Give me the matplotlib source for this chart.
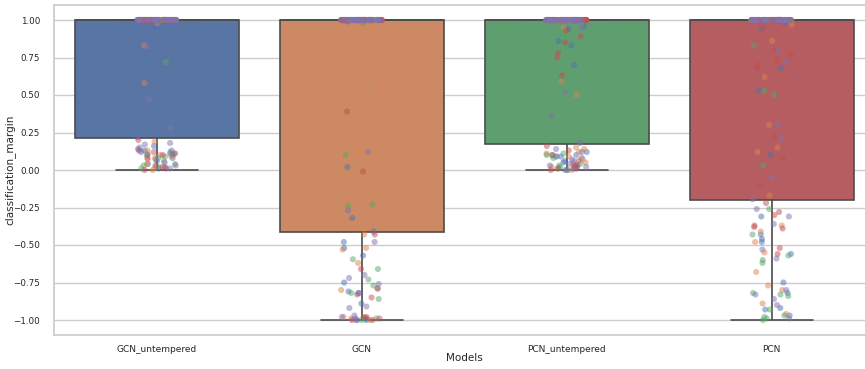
import matplotlib
matplotlib.use("Agg")
import matplotlib.pyplot as plt
import numpy as np
import pandas as pd
import seaborn as sns

models = ["GCN_untempered", "GCN", "PCN_untempered", "PCN"]
seeds = [0, 1, 2, 3, 4]

# classification margin per node, one list per seed
gcn_untempered = [
    [0.01, 0.02, 0.04, 0.06, 0.08, 0.10, 0.12, 0.13, 0.14, 0.16, 0.22, 0.95] + [1.0] * 28,
    [0.00, 0.02, 0.04, 0.07, 0.08, 0.09, 0.10, 0.11, 0.13, 0.19, 0.58, 0.83, 0.98] + [1.0] * 27,
    [0.01, 0.02, 0.03, 0.04, 0.06, 0.08, 0.09, 0.10, 0.11, 0.12, 0.72] + [1.0] * 29,
    [0.00, 0.01, 0.02, 0.03, 0.08, 0.10, 0.11, 0.12, 0.13, 0.20] + [1.0] * 30,
    [0.01, 0.03, 0.05, 0.07, 0.10, 0.11, 0.13, 0.15, 0.17, 0.18, 0.28, 0.47, 0.82] + [1.0] * 27,
]
gcn = [
    [-0.48, -0.52, -0.57, -0.75, -0.81, -0.82, -0.89, -0.99, -1.0, -1.0, -0.99,
     0.02, -0.32, -0.41, 0.99] + [1.0] * 25,
    [-0.43, -0.52, -0.53, -0.62, -0.80, -0.99, -1.0, -0.98,
     0.81, 0.53, 0.23, 0.12, 0.97] + [1.0] * 27,
    [-0.595, -0.66, -0.73, -0.77, -0.79, -0.82, -0.86, -0.99, -1.0, -0.99,
     0.10, -0.23, -0.24, 0.98] + [1.0] * 26,
    [-0.43, -0.66, -0.79, -0.83, -0.85, -0.98, -0.98, -1.0, -0.99, -1.0,
     0.39, -0.01] + [1.0] * 28,
    [-0.48, -0.70, -0.72, -0.76, -0.82, -0.91, -0.92, -0.97, -0.99, -1.0, -0.98,
     0.12, -0.27] + [1.0] * 27,
]
pcn_untempered = [
    [0.00, 0.01, 0.02, 0.03, 0.05, 0.06, 0.08, 0.09, 0.10, 0.12,
     0.96, 0.94, 0.86, 0.83, 0.70] + [1.0] * 25,
    [0.00, 0.02, 0.03, 0.05, 0.07, 0.09, 0.11, 0.12, 0.14, 0.15,
     0.95, 0.59, 0.50] + [1.0] * 27,
    [0.00, 0.01, 0.02, 0.03, 0.04, 0.08, 0.09, 0.10, 0.10, 0.11,
     0.97, 0.25] + [1.0] * 28,
    [0.00, 0.01, 0.01, 0.02, 0.03, 0.04, 0.06, 0.10, 0.13, 0.16,
     0.93, 0.89, 0.85, 0.78, 0.75, 0.63] + [1.0] * 24,
    [0.00, 0.01, 0.02, 0.03, 0.04, 0.06, 0.07, 0.09, 0.12, 0.14,
     0.95, 0.52, 0.36, 0.18] + [1.0] * 26,
]
pcn = [
    [-0.31, -0.43, -0.46, -0.48, -0.56, -0.75, -0.82, -0.92, -0.93, -0.97,
     0.10, 0.53, 0.68, 0.94, 0.98] + [1.0] * 25,
    [-0.37, -0.41, -0.48, -0.55, -0.68, -0.77, -0.80, -0.89, -0.96,
     -0.17, 0.12, 0.15, 0.30, 0.62, 0.86, 0.97] + [1.0] * 24,
    [-0.26, -0.43, -0.57, -0.60, -0.62, -0.82, -0.83, -0.84, -0.93, -0.97, -0.98, -0.99, -1.0,
     0.03, 0.50, 0.53, 0.83] + [1.0] * 23,
    [-0.22, -0.28, -0.30, -0.37, -0.38, -0.39, -0.52, -0.56,
     -0.10, 0.08, 0.22, 0.68, 0.70, 0.73, 0.77, 0.80, 0.95] + [1.0] * 23,
    [-0.26, -0.31, -0.36, -0.53, -0.59, -0.80, -0.83, -0.86, -0.90, -0.99,
     -0.195, -0.05, 0.21, 0.30, 0.72, 0.79] + [1.0] * 24,
]

rows = []
for model, runs in zip(models, [gcn_untempered, gcn, pcn_untempered, pcn]):
    for seed, vals in zip(seeds, runs):
        for v in vals:
            rows.append((model, seed, v))
df = pd.DataFrame(rows, columns=["Models", "seed", "classification_margin"])

sns.set_theme(style="whitegrid")
np.random.seed(3)

fig = plt.figure(figsize=(8.65, 3.69), dpi=100)
ax = fig.add_axes([54 / 865, 34 / 369, 820 / 865, 330 / 369])

sns.boxplot(data=df, x="Models", y="classification_margin", hue="Models",
            order=models, palette="deep", showfliers=False, width=0.8,
            linewidth=1.2, legend=False, ax=ax)
sns.stripplot(data=df, x="Models", y="classification_margin", hue="seed",
              order=models, palette="deep", alpha=0.5, size=4.4, jitter=0.1,
              legend=False, ax=ax)

ax.set_ylim(-1.1, 1.1)
ax.set_xlim(-0.5, 3.5)
ax.set_yticks([-1.0, -0.75, -0.5, -0.25, 0.0, 0.25, 0.5, 0.75, 1.0])
ax.tick_params(axis="y", labelsize=6.3, pad=4)
ax.tick_params(axis="x", labelsize=6.5, pad=1)
ax.set_xlabel("Models", fontsize=7.5)
ax.set_ylabel("classification_margin", fontsize=7.5)
ax.xaxis.set_label_coords(0.5, -0.055)
ax.yaxis.set_label_coords(-0.047, 0.5)

fig.savefig("out.png", dpi=100)
